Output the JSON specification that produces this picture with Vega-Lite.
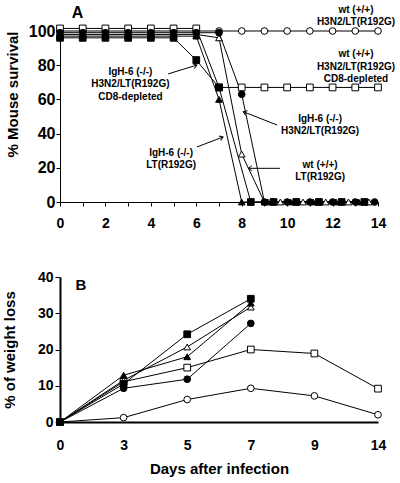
{
  "$schema": "https://vega.github.io/schema/vega-lite/v6.json",
  "autosize": {"type": "none"},
  "padding": {"left": 60, "top": 31, "right": 340, "bottom": 452},
  "background": "white",
  "spacing": 75,
  "bounds": "flush",
  "config": {
    "font": "Liberation Sans",
    "view": {"stroke": null},
    "axis": {"grid": false, "domainColor": "black", "tickColor": "black", "labelColor": "black", "titleColor": "black", "labelFontWeight": "bold", "titleFontWeight": "bold", "labelFont": "Liberation Sans", "titleFont": "Liberation Sans"}
  },
  "datasets": {
    "surv": [
      {"g":"wtH","day":0,"pct":100},{"g":"wtH","day":1,"pct":100},{"g":"wtH","day":2,"pct":100},{"g":"wtH","day":3,"pct":100},{"g":"wtH","day":4,"pct":100},{"g":"wtH","day":5,"pct":100},{"g":"wtH","day":6,"pct":100},{"g":"wtH","day":7,"pct":100},{"g":"wtH","day":8,"pct":100},{"g":"wtH","day":9,"pct":100},{"g":"wtH","day":10,"pct":100},{"g":"wtH","day":11,"pct":100},{"g":"wtH","day":12,"pct":100},{"g":"wtH","day":13,"pct":100},{"g":"wtH","day":14,"pct":100},
      {"g":"wtCD8","day":0,"pct":101.5},{"g":"wtCD8","day":1,"pct":101.5},{"g":"wtCD8","day":2,"pct":101.5},{"g":"wtCD8","day":3,"pct":101.5},{"g":"wtCD8","day":4,"pct":101.5},{"g":"wtCD8","day":5,"pct":101.5},{"g":"wtCD8","day":6,"pct":101.5},{"g":"wtCD8","day":7,"pct":67},{"g":"wtCD8","day":8,"pct":67},{"g":"wtCD8","day":9,"pct":67},{"g":"wtCD8","day":10,"pct":67},{"g":"wtCD8","day":11,"pct":67},{"g":"wtCD8","day":12,"pct":67},{"g":"wtCD8","day":13,"pct":67},{"g":"wtCD8","day":14,"pct":67},
      {"g":"wtLT","day":0,"pct":98},{"g":"wtLT","day":1,"pct":98},{"g":"wtLT","day":2,"pct":98},{"g":"wtLT","day":3,"pct":98},{"g":"wtLT","day":4,"pct":98},{"g":"wtLT","day":5,"pct":98},{"g":"wtLT","day":6,"pct":98},{"g":"wtLT","day":7,"pct":96},{"g":"wtLT","day":8,"pct":28},{"g":"wtLT","day":9,"pct":0},{"g":"wtLT","day":9.7,"pct":0},{"g":"wtLT","day":10.7,"pct":0},{"g":"wtLT","day":11.7,"pct":0},{"g":"wtLT","day":12.7,"pct":0},{"g":"wtLT","day":13.6,"pct":0},
      {"g":"IgH","day":0,"pct":99},{"g":"IgH","day":1,"pct":99},{"g":"IgH","day":2,"pct":99},{"g":"IgH","day":3,"pct":99},{"g":"IgH","day":4,"pct":99},{"g":"IgH","day":5,"pct":99},{"g":"IgH","day":6,"pct":99},{"g":"IgH","day":7,"pct":99},{"g":"IgH","day":8,"pct":63},{"g":"IgH","day":9,"pct":0},{"g":"IgH","day":10,"pct":0},{"g":"IgH","day":11,"pct":0},{"g":"IgH","day":12,"pct":0},{"g":"IgH","day":13,"pct":0},{"g":"IgH","day":13.85,"pct":0},
      {"g":"IgLT","day":0,"pct":97},{"g":"IgLT","day":1,"pct":97},{"g":"IgLT","day":2,"pct":97},{"g":"IgLT","day":3,"pct":97},{"g":"IgLT","day":4,"pct":97},{"g":"IgLT","day":5,"pct":97},{"g":"IgLT","day":6,"pct":97},{"g":"IgLT","day":7,"pct":60},{"g":"IgLT","day":8,"pct":0},{"g":"IgLT","day":9.15,"pct":0},{"g":"IgLT","day":10.15,"pct":0},{"g":"IgLT","day":11.15,"pct":0},{"g":"IgLT","day":12.15,"pct":0},{"g":"IgLT","day":13.15,"pct":0},
      {"g":"IgCD8","day":0,"pct":96},{"g":"IgCD8","day":1,"pct":96},{"g":"IgCD8","day":2,"pct":96},{"g":"IgCD8","day":3,"pct":96},{"g":"IgCD8","day":4,"pct":96},{"g":"IgCD8","day":5,"pct":96},{"g":"IgCD8","day":6,"pct":83},{"g":"IgCD8","day":7,"pct":67},{"g":"IgCD8","day":8.4,"pct":0},{"g":"IgCD8","day":9.4,"pct":0},{"g":"IgCD8","day":10.4,"pct":0},{"g":"IgCD8","day":11.4,"pct":0},{"g":"IgCD8","day":12.4,"pct":0},{"g":"IgCD8","day":13.4,"pct":0}
    ],
    "ann": [
      {"t":"wt (+/+)\nH3N2/LT(R192G)","day":13.03,"pct":112.3},
      {"t":"wt (+/+)\nH3N2/LT(R192G)\nCD8-depleted","day":13.03,"pct":86.5},
      {"t":"IgH-6 (-/-)\nH3N2/LT(R192G)","day":11.45,"pct":48.8},
      {"t":"wt (+/+)\nLT(R192G)","day":11.45,"pct":21.7},
      {"t":"IgH-6 (-/-)\nH3N2/LT(R192G)\nCD8-depleted","day":3.1,"pct":76.2},
      {"t":"IgH-6 (-/-)\nLT(R192G)","day":4.89,"pct":28.8}
    ],
    "arr": [
      {"day":9.56,"pct":45.0,"day2":8.07,"pct2":52.8},
      {"day":9.69,"pct":19.7,"day2":8.29,"pct2":19.7},
      {"day":4.76,"pct":74.9,"day2":6.03,"pct2":80.1},
      {"day":6.03,"pct":32.2,"day2":7.18,"pct2":38.0}
    ],
    "panA": [{"t":"A","day":0.77,"pct":110.8}],
    "wl": [
      {"g":"wtH","d":0,"loss":0},{"g":"wtH","d":3,"loss":1.2},{"g":"wtH","d":5,"loss":6.2},{"g":"wtH","d":7,"loss":9.3},{"g":"wtH","d":9,"loss":7.2},{"g":"wtH","d":14,"loss":2},
      {"g":"wtCD8","d":0,"loss":0},{"g":"wtCD8","d":3,"loss":11.1},{"g":"wtCD8","d":5,"loss":15},{"g":"wtCD8","d":7,"loss":20},{"g":"wtCD8","d":9,"loss":18.9},{"g":"wtCD8","d":14,"loss":9.2},
      {"g":"wtLT","d":0,"loss":0},{"g":"wtLT","d":3,"loss":11.5},{"g":"wtLT","d":5,"loss":20.7},{"g":"wtLT","d":7,"loss":31.7},
      {"g":"IgH","d":0,"loss":0},{"g":"IgH","d":3,"loss":9.3},{"g":"IgH","d":5,"loss":11.8},{"g":"IgH","d":7,"loss":27.2},
      {"g":"IgLT","d":0,"loss":0},{"g":"IgLT","d":3,"loss":12.9},{"g":"IgLT","d":5,"loss":18},{"g":"IgLT","d":7,"loss":32.8},
      {"g":"IgCD8","d":0,"loss":0},{"g":"IgCD8","d":3,"loss":10.5},{"g":"IgCD8","d":5,"loss":24.2},{"g":"IgCD8","d":7,"loss":34}
    ],
    "panB": [{"t":"B","d":0,"loss":37.7}]
  },
  "vconcat": [
    {
      "width": 318,
      "height": 171,
      "encoding": {
        "x": {"field": "day", "type": "quantitative", "scale": {"domain": [0, 14], "nice": false, "zero": false},
              "axis": {"values": [0,1,2,3,4,5,6,7,8,9,10,11,12,13,14], "labelExpr": "datum.value % 2 === 0 ? datum.label : ''", "tickSize": 4, "labelPadding": 10, "labelFontSize": 14, "labelDx": 4, "labelFlush": false, "labelOverlap": false, "title": null, "domainWidth": 1}},
        "y": {"field": "pct", "type": "quantitative", "scale": {"domain": [0, 100], "nice": false},
              "axis": {"values": [0,20,40,60,80,100], "tickSize": 4, "labelPadding": 1, "labelFontSize": 16, "title": "% Mouse survival", "titleFontSize": 15, "titlePadding": 8, "titleAnchor": "end", "domainWidth": 1}}
      },
      "layer": [
        {"data": {"name": "surv"}, "mark": {"type": "line", "color": "black", "strokeWidth": 1}, "encoding": {"detail": {"field": "g"}}},
        {"data": {"name": "surv"}, "mark": {"type": "point", "filled": true, "stroke": "black", "strokeWidth": 1, "size": 45, "opacity": 1},
         "encoding": {
           "shape": {"field": "g", "type": "nominal", "scale": {"domain": ["wtH","wtCD8","wtLT","IgH","IgLT","IgCD8"], "range": ["circle","square","triangle-up","circle","triangle-up","square"]}, "legend": null},
           "fill": {"field": "g", "type": "nominal", "scale": {"domain": ["wtH","wtCD8","wtLT","IgH","IgLT","IgCD8"], "range": ["white","white","white","black","black","black"]}, "legend": null}
         }},
        {"data": {"name": "arr"}, "mark": {"type": "rule", "color": "black", "strokeWidth": 1}, "encoding": {"x2": {"field": "day2"}, "y2": {"field": "pct2"}}},
        {"data": {"name": "arr"},
         "transform": [{"calculate": "atan2(-(datum.pct2 - datum.pct) * 1.71, (datum.day2 - datum.day) * 22.71) * 180 / PI", "as": "ang"}],
         "mark": {"type": "point", "shape": "M -1 -0.7 L 0 0 L -1 0.7", "filled": false, "stroke": "black", "strokeWidth": 1, "size": 50, "opacity": 1},
         "encoding": {"x": {"field": "day2", "type": "quantitative"}, "y": {"field": "pct2", "type": "quantitative"}, "angle": {"field": "ang", "type": "quantitative", "scale": null}}},
        {"data": {"name": "ann"}, "mark": {"type": "text", "fontSize": 10, "fontWeight": "bold", "lineBreak": "\n", "lineHeight": 12.5, "align": "center", "baseline": "middle", "color": "black"}, "encoding": {"text": {"field": "t"}}},
        {"data": {"name": "panA"}, "mark": {"type": "text", "fontSize": 16, "fontWeight": "bold", "align": "center", "baseline": "middle", "color": "black"}, "encoding": {"text": {"field": "t"}}}
      ]
    },
    {
      "width": 318,
      "height": 145,
      "encoding": {
        "x": {"field": "d", "type": "ordinal", "scale": {"type": "point", "padding": 0},
              "axis": {"ticks": false, "tickSize": 0, "labelPadding": 16, "labelFontSize": 14, "labelAngle": 0, "title": "Days after infection", "titleFontSize": 15, "titlePadding": 9, "domainWidth": 2}},
        "y": {"field": "loss", "type": "quantitative", "scale": {"domain": [0, 40], "nice": false},
              "axis": {"values": [0,10,20,30,40], "tickSize": 5, "labelPadding": 2, "labelFontSize": 14, "title": "% of weight loss", "titleFontSize": 15, "titlePadding": 20, "domainWidth": 2}}
      },
      "layer": [
        {"data": {"name": "wl"}, "mark": {"type": "line", "color": "black", "strokeWidth": 1}, "encoding": {"detail": {"field": "g"}}},
        {"data": {"name": "wl"}, "mark": {"type": "point", "filled": true, "stroke": "black", "strokeWidth": 1, "size": 45, "opacity": 1},
         "encoding": {
           "shape": {"field": "g", "type": "nominal", "scale": {"domain": ["wtH","wtCD8","wtLT","IgH","IgLT","IgCD8"], "range": ["circle","square","triangle-up","circle","triangle-up","square"]}, "legend": null},
           "fill": {"field": "g", "type": "nominal", "scale": {"domain": ["wtH","wtCD8","wtLT","IgH","IgLT","IgCD8"], "range": ["white","white","white","black","black","black"]}, "legend": null}
         }},
        {"data": {"name": "panB"}, "mark": {"type": "text", "fontSize": 15, "fontWeight": "bold", "align": "center", "baseline": "middle", "dx": 21, "color": "black"}, "encoding": {"text": {"field": "t"}}}
      ]
    }
  ]
}
